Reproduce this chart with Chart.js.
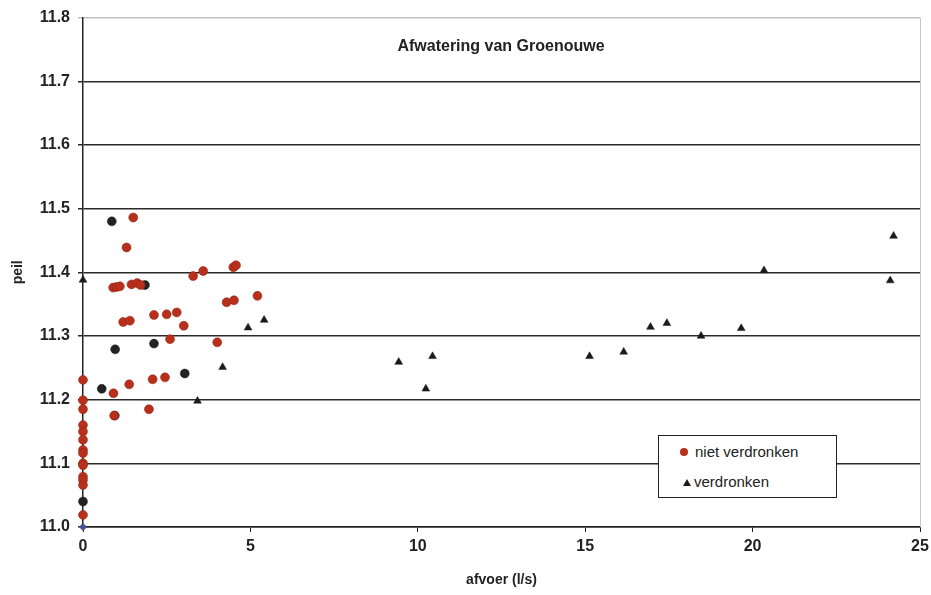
<!DOCTYPE html>
<html lang="nl">
<head>
    <meta charset="UTF-8" />
    <title>Afwatering van Groenouwe</title>
    <script src="https://cdn.jsdelivr.net/npm/chart.js"></script>
    <style>
        body { margin: 0; background: #fff; font-family: "Liberation Sans", Arial, sans-serif; }
        #wrap { position: relative; width: 931px; height: 595px; }
        #legend {
            position: absolute; left: 658px; top: 435px; width: 177px; height: 61px;
            border: 1.5px solid #222; background: #fff; font-size: 15px; color: #222;
        }
        #legend div { position: absolute; white-space: nowrap; }
        .dot { display: inline-block; width: 8px; height: 8px; border-radius: 50%; background: #b8301c; margin-right: 7px; vertical-align: 1px; }
        .tri { display: inline-block; width: 0; height: 0; border-left: 4px solid transparent; border-right: 4px solid transparent; border-bottom: 7px solid #1a1a1a; margin-right: 3px; vertical-align: 1px; }
    </style>
</head>
<body>
<div id="wrap">
    <canvas id="chart" width="931" height="595"></canvas>
    <div id="legend">
        <div style="left:21px; top:7px;"><span class="dot"></span>niet verdronken</div>
        <div style="left:24px; top:37px;"><span class="tri"></span>verdronken</div>
    </div>
</div>
<script>
    // afvoer (l/s) , peil
    const nietVerdronken = [
        [0, 11.231], [0, 11.199], [0, 11.185], [0, 11.160], [0, 11.150], [0, 11.137], [0, 11.121],
        [0, 11.116], [0, 11.100], [0, 11.097], [0, 11.079], [0, 11.074], [0, 11.066], [0, 11.019],
        [1.50, 11.486], [1.30, 11.439], [0.90, 11.376], [1.00, 11.377], [1.10, 11.378],
        [1.45, 11.381], [1.62, 11.383], [1.72, 11.380],
        [3.29, 11.394], [3.59, 11.402], [4.49, 11.408], [4.57, 11.411], [4.29, 11.353], [4.51, 11.356],
        [5.21, 11.363], [1.20, 11.322], [1.40, 11.324], [2.12, 11.333], [2.50, 11.334], [2.80, 11.337],
        [3.01, 11.316], [2.60, 11.295], [4.01, 11.290], [2.08, 11.232], [2.45, 11.235], [1.38, 11.224],
        [0.91, 11.210], [1.97, 11.185], [0.93, 11.175]
    ];
    // donkere (zwarte) stippen van dezelfde reeks
    const nietVerdronkenDonker = [
        [0.86, 11.480], [1.85, 11.380], [0.96, 11.279], [2.12, 11.288], [3.04, 11.241],
        [0.56, 11.217], [0, 11.040], [0.95, 11.175]
    ];
    const overig = [[0, 11.000], [0, 11.147]];
    const verdronken = [
        [0, 11.388], [3.42, 11.198], [4.17, 11.251], [4.93, 11.313], [5.41, 11.325], [9.43, 11.259],
        [10.24, 11.217], [10.44, 11.268], [15.13, 11.268], [16.15, 11.275], [16.95, 11.314],
        [17.44, 11.320], [18.46, 11.300], [19.66, 11.312], [20.34, 11.403], [24.11, 11.387], [24.21, 11.457]
    ];
    const xTicks = [0, 5, 10, 15, 20, 25];
    const yMin = 11.0, yMax = 11.8;

    const toPts = arr => arr.map(p => ({ x: p[0], y: p[1] }));
    const FONT = '"Liberation Sans", Arial, sans-serif';

    const titlePlugin = {
        id: 'inside',
        afterDraw(chart) {
            const ctx = chart.ctx, a = chart.chartArea;
            ctx.save();
            ctx.strokeStyle = '#c8c8c8';
            ctx.lineWidth = 1;
            ctx.beginPath();
            ctx.moveTo(a.right + 0.5, a.top);
            ctx.lineTo(a.right + 0.5, a.bottom);
            ctx.stroke();
            ctx.fillStyle = '#222';
            ctx.font = 'bold 16px ' + FONT;
            ctx.textAlign = 'center';
            ctx.textBaseline = 'middle';
            ctx.fillText('Afwatering van Groenouwe', 501, 47);
            ctx.restore();
        }
    };

    new Chart(document.getElementById('chart'), {
        type: 'scatter',
        data: {
            datasets: [
                { label: 'niet verdronken', data: toPts(nietVerdronken), pointStyle: 'circle', pointRadius: 4.5,
                  backgroundColor: '#b8301c', borderColor: '#8a2414', borderWidth: 0.5, clip: false },
                { label: 'donker', data: toPts(nietVerdronkenDonker), pointStyle: 'circle', pointRadius: 4.5,
                  backgroundColor: '#222', borderColor: '#222', borderWidth: 0.5, clip: false },
                { label: 'overig', data: toPts(overig), pointStyle: 'rectRot', pointRadius: 3.5,
                  backgroundColor: '#4a4f9a', borderColor: '#4a4f9a', clip: false },
                { label: 'verdronken', data: toPts(verdronken), pointStyle: 'triangle', pointRadius: 4.5,
                  backgroundColor: '#1a1a1a', borderColor: '#1a1a1a', borderWidth: 0.5, clip: false }
            ]
        },
        options: {
            responsive: false,
            animation: false,
            layout: { padding: { top: 17, right: 11, left: 0, bottom: 0 } },
            plugins: { legend: { display: false }, tooltip: { enabled: false } },
            scales: {
                x: {
                    type: 'linear', min: 0, max: 25,
                    afterBuildTicks: s => { s.ticks = xTicks.map(v => ({ value: v })); },
                    afterFit: s => { s.height = 68; s.paddingRight = 0; },
                    grid: { drawOnChartArea: false, drawTicks: true, tickLength: 5, color: '#222' },
                    border: { color: '#222', width: 1.5 },
                    ticks: { color: '#222', padding: 5, font: { family: FONT, size: 16, weight: 'bold' } },
                    title: { display: true, text: 'afvoer (l/s)', color: '#222', padding: { top: 4, bottom: 6 },
                             font: { family: FONT, size: 14, weight: 'bold' } }
                },
                y: {
                    type: 'linear', min: yMin, max: yMax,
                    ticks: { stepSize: 0.1, color: '#222', padding: 8, callback: v => v.toFixed(1),
                             font: { family: FONT, size: 16, weight: 'bold' } },
                    afterFit: s => { s.width = 83; },
                    grid: { tickLength: 5, lineWidth: 1.5,
                            color: c => (c.tick && c.tick.value >= yMax - 1e-6) ? '#c0c0c0' : '#2a2a2a' },
                    border: { color: '#222', width: 1.5 },
                    title: { display: true, text: 'peil', color: '#222', padding: { top: 10, bottom: 4 },
                             font: { family: FONT, size: 14, weight: 'bold' } }
                }
            }
        },
        plugins: [titlePlugin]
    });
</script>
</body>
</html>
